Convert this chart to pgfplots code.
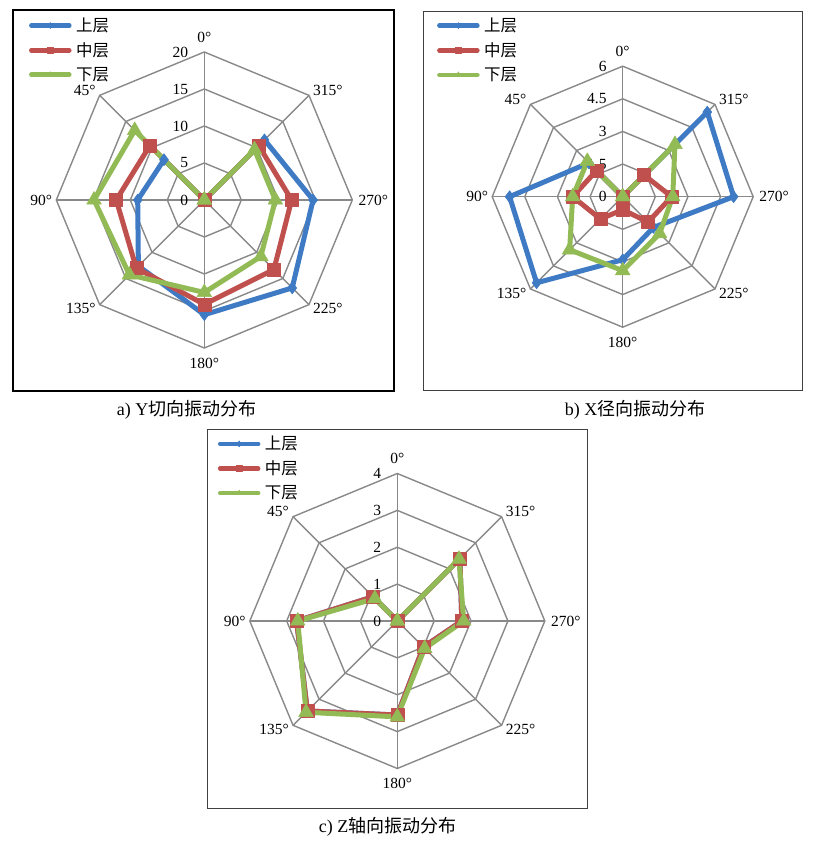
\documentclass[border=0pt]{standalone}
\usepackage{pgfplots}
\pgfplotsset{compat=1.18}
\usepgfplotslibrary{polar}
\usepackage{fontspec}
\setmainfont{Liberation Serif}
\newfontfamily\cjk{Noto Sans CJK SC}
\definecolor{cblue}{HTML}{3F7BC4}
\definecolor{cred}{HTML}{C0504D}
\definecolor{cgreen}{HTML}{93BB55}
\definecolor{cgrid}{HTML}{898989}
\tikzset{lbl/.style={font=\fontsize{15.5}{17}\selectfont, inner sep=0pt}}
\pgfplotsset{
  radar/.style={
    hide axis, clip=false, enlargelimits=false, anchor=center,
    legend cell align=left,
    legend image code/.code={\draw[mark repeat=2,mark phase=2,##1, line width=4.5pt, line cap=round, mark size=3pt] plot coordinates {(2pt,0pt)(21pt,0pt)(40pt,0pt)};},
    legend style={draw=none, fill=none, inner sep=0pt, outer sep=0pt, anchor=north west,
      font=\fontsize{16.5}{18}\selectfont\cjk, row sep=6.5pt, nodes={inner sep=1.5pt},
      /tikz/every odd column/.append style={column sep=3pt}},
  },
  sblue/.style={cblue, line width=5pt, line join=round, mark=diamond*, mark size=6pt, mark options={line width=0.5pt}, data cs=polar},
  sred/.style={cred, line width=5pt, line join=round, mark=square*, mark size=6.5pt, mark options={line width=0.5pt}, data cs=polar},
  sgreen/.style={cgreen, line width=5pt, line join=round, mark=triangle*, mark size=8.5pt, mark options={line width=0.5pt}, data cs=polar},
  gridl/.style={cgrid, line width=1.4pt, forget plot, data cs=polar, mark=none},
}
% #1 = outer radius, #2 = list of ring values
\newcommand{\radargrid}[2]{%
  \pgfplotsinvokeforeach{#2}{\addplot[gridl] coordinates {(90,##1)(45,##1)(0,##1)(-45,##1)(-90,##1)(-135,##1)(-180,##1)(-225,##1)(90,##1)(45,##1)};}
  \pgfplotsinvokeforeach{90,45,0,-45,-90,-135,-180,-225}{\addplot[gridl] coordinates {(##1,0)(##1,#1)};}
}
% #1 = R, #2 = R*cos45
\newcommand{\anglabels}[2]{%
  \node[lbl, anchor=center, yshift=15pt] at (axis cs:0,#1) {0°};
  \node[lbl, anchor=west, xshift=4pt, yshift=5pt] at (axis cs:#2,#2) {315°};
  \node[lbl, anchor=west, xshift=6pt] at (axis cs:#1,0) {270°};
  \node[lbl, anchor=west, xshift=4pt, yshift=-4pt] at (axis cs:#2,-#2) {225°};
  \node[lbl, anchor=center, yshift=-15pt] at (axis cs:0,-#1) {180°};
  \node[lbl, anchor=east, xshift=-4pt, yshift=-4pt] at (axis cs:-#2,-#2) {135°};
  \node[lbl, anchor=east, xshift=-4pt] at (axis cs:-#1,0) {90°};
  \node[lbl, anchor=east, xshift=-4pt, yshift=5pt] at (axis cs:-#2,#2) {45°};
}
\newcommand{\rlab}[2]{\node[lbl, anchor=east, xshift=-16pt] at (axis cs:0,#1) {#2};}
\begin{document}
\begin{tikzpicture}[x=1pt,y=1pt]
\useasboundingbox (0,0) rectangle (819,846);
\fill[white] (0,0) rectangle (819,846);
% frames
\draw[black, line width=2pt] (13,836) rectangle (394.3,455.3);
\draw[black!75, line width=0.9pt] (423.3,834.3) rectangle (802.7,455.3);
\draw[black!75, line width=0.9pt] (207.3,416.7) rectangle (587.3,37.7);
% captions
\node[font=\fontsize{18}{20}\selectfont] at (186.7,436) {a) Y{\cjk 切向振动分布}};
\node[font=\fontsize{18}{20}\selectfont] at (635,436) {b) X{\cjk 径向振动分布}};
\node[font=\fontsize{18}{20}\selectfont] at (387.5,19.3) {c) Z{\cjk 轴向振动分布}};

% ---------------- chart a ----------------
\begin{axis}[radar, x=7.4pt, y=7.4pt, xmin=-20, xmax=20, ymin=-20, ymax=20,
  at={(204.3pt,646pt)}, legend style={at={(-0.092,1.12)}}]
\radargrid{20}{5,10,15,20}
\anglabels{20}{14.142}
\rlab{0}{0}\rlab{5}{5}\rlab{10}{10}\rlab{15}{15}\rlab{20}{20}
\addplot[sblue] coordinates {(90,0)(45,11.5)(0,14.7)(-45,16.8)(-90,15.5)(-135,12.6)(-180,9.0)(-225,7.7)(90,0)};
\addlegendentry{上层}
\addplot[sred] coordinates {(90,0)(45,10.4)(0,11.8)(-45,13.3)(-90,14.1)(-135,13.0)(-180,11.9)(-225,10.4)(90,0)};
\addlegendentry{中层}
\addplot[sgreen] coordinates {(90,0)(45,9.6)(0,9.6)(-45,10.8)(-90,12.5)(-135,14.3)(-180,14.9)(-225,13.3)(90,0)};
\addlegendentry{下层}
\end{axis}

% ---------------- chart b ----------------
\begin{axis}[radar, x=21.75pt, y=21.75pt, xmin=-6, xmax=6, ymin=-6, ymax=6,
  at={(622.7pt,649.3pt)}, legend style={at={(-0.211,1.19)}}]
\radargrid{6}{1.5,3,4.5,6}
\anglabels{6}{4.243}
\rlab{0}{0}\rlab{1.5}{1.5}\rlab{3}{3}\rlab{4.5}{4.5}\rlab{6}{6}
\addplot[sblue] coordinates {(90,0)(45,5.5)(0,5.1)(-45,2.0)(-90,2.9)(-135,5.6)(-180,5.2)(-225,2.2)(90,0)};
\addlegendentry{上层}
\addplot[sred] coordinates {(90,0)(45,1.4)(0,2.25)(-45,1.65)(-90,0.6)(-135,1.45)(-180,2.3)(-225,1.7)(90,0)};
\addlegendentry{中层}
\addplot[sgreen] coordinates {(90,0)(45,3.4)(0,2.3)(-45,2.4)(-90,3.4)(-135,3.45)(-180,2.3)(-225,2.3)(90,0)};
\addlegendentry{下层}
\end{axis}

% ---------------- chart c ----------------
\begin{axis}[radar, x=36.875pt, y=36.875pt, xmin=-4, xmax=4, ymin=-4, ymax=4,
  at={(397.3pt,225pt)}, legend style={at={(-0.108,1.131)}}]
\radargrid{4}{1,2,3,4}
\anglabels{4}{2.828}
\rlab{0}{0}\rlab{1}{1}\rlab{2}{2}\rlab{3}{3}\rlab{4}{4}
\addplot[sblue] coordinates {(90,0)(45,2.4)(0,1.75)(-45,1.0)(-90,2.55)(-135,3.45)(-180,2.73)(-225,0.93)(90,0)};
\addlegendentry{上层}
\addplot[sred] coordinates {(90,0)(45,2.4)(0,1.75)(-45,1.0)(-90,2.55)(-135,3.45)(-180,2.73)(-225,0.93)(90,0)};
\addlegendentry{中层}
\addplot[sgreen] coordinates {(90,0)(45,2.37)(0,1.8)(-45,1.05)(-90,2.6)(-135,3.5)(-180,2.7)(-225,0.86)(90,0)};
\addlegendentry{下层}
\end{axis}
\end{tikzpicture}
\end{document}
